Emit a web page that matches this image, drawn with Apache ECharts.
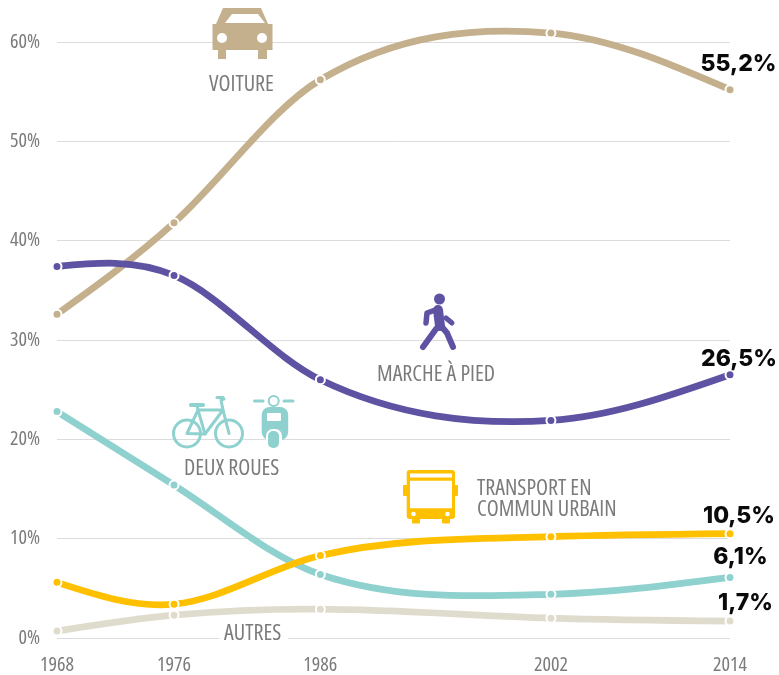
<!DOCTYPE html>
<html><head><meta charset="utf-8">
<style>html,body{margin:0;padding:0;background:#fff}#c{width:779px;height:675px}</style>
<script src="https://cdn.jsdelivr.net/npm/echarts@6/dist/echarts.min.js"></script>
</head><body><div id="c"></div>
<script>
const yearLabels = ['1968', '1976', '1986', '2002', '2014'];
// horizontal placement of each survey year on the time axis, as drawn in the picture
const years = [1968, 1976, 1986, 2001.76, 2014];
const yTicks = [0, 10, 20, 30, 40, 50, 60];
const voiture = [32.6, 41.8, 56.2, 60.9, 55.2];
const marche = [37.4, 36.5, 26.0, 21.9, 26.5];
const deuxRoues = [22.8, 15.4, 6.4, 4.4, 6.1];
const transport = [5.6, 3.4, 8.3, 10.2, 10.5];
const autres = [0.7, 2.3, 2.9, 2.0, 1.7];

const COND = '"Open Sans"';
const GREY = '#7b7b7b';
const C = { v: '#c4b08d', m: '#5e52a3', d: '#8fd1cf', t: '#ffc000', a: '#e0dccd' };
const mk = (vals) => vals.map((v, i) => [years[i], v]);
const fmt = (v) => v.toFixed(1).replace('.', ',') + '%';

// tangents of the natural cubic spline through pixel points
function naturalTangents(p) {
  const n = p.length - 1, h = [], a = [], b = [], c = [], r = [], k = new Array(n + 1).fill(0), t = [];
  for (let i = 0; i < n; i++) h[i] = p[i + 1][0] - p[i][0];
  for (let i = 1; i < n; i++) {
    a[i] = h[i - 1]; b[i] = 2 * (h[i - 1] + h[i]); c[i] = h[i];
    r[i] = 6 * ((p[i + 1][1] - p[i][1]) / h[i] - (p[i][1] - p[i - 1][1]) / h[i - 1]);
  }
  for (let i = 2; i < n; i++) { const f = a[i] / b[i - 1]; b[i] -= f * c[i - 1]; r[i] -= f * r[i - 1]; }
  for (let i = n - 1; i >= 1; i--) k[i] = (r[i] - c[i] * k[i + 1]) / b[i];
  for (let i = 0; i < n; i++) t[i] = (p[i + 1][1] - p[i][1]) / h[i] - h[i] * (2 * k[i] + k[i + 1]) / 6;
  t[n] = (p[n][1] - p[n - 1][1]) / h[n - 1] + h[n - 1] * (k[n - 1] + 2 * k[n]) / 6;
  return t;
}
// smooth curve through pixel points: blend of chord tangents and natural-spline tangents
function smoothPath(p) {
  const n = p.length - 1, m = [], t = naturalTangents(p), w = 0.35;
  for (let i = 1; i < n; i++) {
    const chord = (p[i + 1][1] - p[i - 1][1]) / (p[i + 1][0] - p[i - 1][0]);
    m[i] = (1 - w) * chord + w * t[i];
  }
  m[0] = (3 * (p[1][1] - p[0][1]) / (p[1][0] - p[0][0]) - m[1]) / 2;
  m[n] = (3 * (p[n][1] - p[n - 1][1]) / (p[n][0] - p[n - 1][0]) - m[n - 1]) / 2;
  let d = 'M' + p[0][0] + ' ' + p[0][1];
  for (let i = 0; i < n; i++) {
    const h = (p[i + 1][0] - p[i][0]) / 3;
    d += 'C' + (p[i][0] + h) + ' ' + (p[i][1] + m[i] * h) + ' ' +
      (p[i + 1][0] - h) + ' ' + (p[i + 1][1] - m[i + 1] * h) + ' ' + p[i + 1][0] + ' ' + p[i + 1][1];
  }
  return d;
}
function curve(name, vals, color, z) {
  return {
    type: 'custom', name: name + ' (courbe)', data: mk(vals), z, silent: true, clip: false,
    encode: { x: 0, y: 1 },
    renderItem: (params, api) => {
      if (params.dataIndex !== 0) return null;
      const pts = vals.map((v, i) => api.coord([years[i], v]));
      return { type: 'path', shape: { pathData: smoothPath(pts) },
        style: { fill: 'none', stroke: color, lineWidth: 6.8, lineCap: 'butt' } };
    }
  };
}
function points(name, vals, color, off) {
  return {
    type: 'line', name, data: mk(vals), clip: false,
    showSymbol: true, symbol: 'circle', symbolSize: 9, z: 5,
    itemStyle: { color, borderColor: '#fff', borderWidth: 2, opacity: 1 },
    lineStyle: { width: 0, opacity: 0 },
    label: {
      show: true, position: 'inside', offset: off,
      formatter: (p) => p.dataIndex === vals.length - 1 ? fmt(vals[p.dataIndex]) : '',
      fontFamily: 'Inter,sans-serif', fontWeight: 800, fontSize: 23, color: '#0a0a0a'
    },
    emphasis: { disabled: true }, animation: false
  };
}
const txt = (t, x, y) => ({ type: 'text', x, y, z: 20, style: { text: t, fill: GREY, font: 'condensed 22px ' + COND, textVerticalAlign: 'middle' } });
const poly = (points, fill) => ({ type: 'polygon', z: 10, shape: { points }, style: { fill } });
const pl = (points, stroke, w) => ({ type: 'polyline', z: 10, shape: { points }, style: { fill: 'none', stroke, lineWidth: w, lineCap: 'round', lineJoin: 'round' } });
const circ = (cx, cy, r, fill, stroke, w) => ({ type: 'circle', z: 11, shape: { cx, cy, r }, style: { fill, stroke: stroke || 'none', lineWidth: w || 0 } });
const rect = (x, y, w, h, fill, r) => ({ type: 'rect', z: 11, shape: { x, y, width: w, height: h, r: r || 0 }, style: { fill } });

const car = [
  poly([[223,8],[261,8],[268,24],[272.5,24],[272.5,50],[267,50],[267,59],[258,59],[258,50],[226,50],[226,59],[218,59],[218,50],[212.5,50],[212.5,24],[216,24]], C.v),
  Object.assign(poly([[225,23],[232,14],[258,14],[265,23]], '#fff'), { z: 11 }),
  circ(222, 38, 5, '#fff'), circ(262, 38, 5, '#fff')
];
const walker = [
  circ(439.5, 299, 5.5, C.m),
  pl([[438,309],[427,313],[426,323]], C.m, 5.5),
  pl([[438,310],[440,326]], C.m, 10),
  pl([[436,329],[423,347]], C.m, 6),
  pl([[442,327],[447,333],[453,347]], C.m, 6),
  pl([[446,318],[452,323]], C.m, 5)
];
const bike = [
  circ(187, 433.5, 13.5, 'none', C.d, 3), circ(229, 433.5, 13.5, 'none', C.d, 3),
  pl([[187,433.5],[198,410],[223,410],[205,434],[187,433.5]], C.d, 3),
  pl([[198,410],[205,434]], C.d, 3),
  pl([[198,410],[197,405]], C.d, 3),
  pl([[229,433.5],[223,410],[221,400],[224,399],[223,397.5],[217,397.5]], C.d, 3),
  pl([[191,405],[203,405]], C.d, 4)
];
const scooter = [
  pl([[254.5,401],[263,401]], C.d, 3), pl([[284,401],[293,401]], C.d, 3),
  circ(273.7, 401, 5, '#fff', C.d, 2),
  rect(261.7, 407, 26.5, 33, C.d, 8),
  rect(267, 413, 14, 8, '#fff', 1),
  rect(266, 429, 16, 20, '#fff', 7),
  rect(268, 431, 11, 17, C.d, 5)
];
const bus = [
  rect(403, 485, 5, 11, C.t, 1), rect(453, 485, 5, 11, C.t, 1),
  rect(406.7, 470, 48.3, 49, C.t, 3),
  rect(412, 516, 8, 7.5, C.t, 1), rect(442, 516, 8, 7.5, C.t, 1),
  rect(410, 473.5, 42, 4, '#fff'), rect(410, 480.7, 42, 27.5, '#fff'),
  circ(413.5, 514, 2.3, '#fff'), circ(447.5, 514, 2.3, '#fff')
];

const chart = echarts.init(document.getElementById('c'), null, { renderer: 'canvas' });
chart.setOption({
  animation: false,
  backgroundColor: '#fff',
  grid: { left: 57, right: 49, top: 42, bottom: 36 },
  xAxis: {
    type: 'value', min: 1968, max: 2014, splitLine: { show: false },
    axisLine: { show: false }, axisTick: { show: false },
    axisLabel: { customValues: years, formatter: (v) => yearLabels[years.indexOf(v)], color: GREY, fontFamily: COND, fontWeight: 'condensed', fontSize: 20, margin: 17, hideOverlap: false, showMinLabel: true, showMaxLabel: true }
  },
  yAxis: {
    type: 'value', min: yTicks[0], max: yTicks[yTicks.length - 1], interval: 10,
    splitLine: { lineStyle: { color: '#dcdcdc', width: 1 } },
    axisLine: { show: false }, axisTick: { show: false },
    axisLabel: { formatter: '{value}%', color: GREY, fontFamily: COND, fontWeight: 'condensed', fontSize: 20, margin: 17, verticalAlign: 'middle', padding: [0, 0, 4, 0] }
  },
  series: [
    curve('Autres', autres, C.a, 2),
    curve('Voiture', voiture, C.v, 2),
    curve('Marche à pied', marche, C.m, 2),
    curve('Deux roues', deuxRoues, C.d, 2),
    curve('Transport en commun urbain', transport, C.t, 3),
    points('Voiture', voiture, C.v, [8.5, -26]),
    points('Marche à pied', marche, C.m, [9, -16]),
    points('Deux roues', deuxRoues, C.d, [10.5, -20]),
    points('Transport en commun urbain', transport, C.t, [9, -18]),
    points('Autres', autres, C.a, [15.5, -18])
  ],
  graphic: [].concat(car, walker, bike, scooter, bus, [
    txt('VOITURE', 209, 85),
    txt('MARCHE À PIED', 377, 375),
    txt('DEUX ROUES', 184, 469),
    txt('TRANSPORT EN', 477, 489),
    txt('COMMUN URBAIN', 477, 510),
    { type: 'rect', z: 19, shape: { x: 219, y: 630, width: 69, height: 16 }, style: { fill: '#fff' } },
    txt('AUTRES', 224, 634)
  ])
});
</script></body></html>
